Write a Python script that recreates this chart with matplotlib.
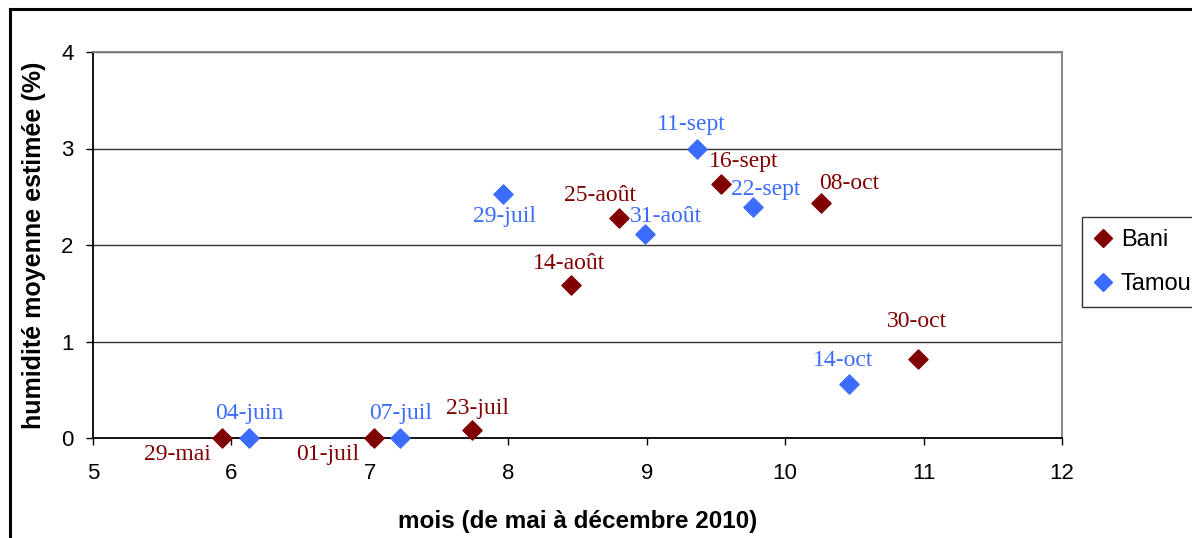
import matplotlib
matplotlib.use("Agg")
import matplotlib.pyplot as plt
from matplotlib.lines import Line2D

# Sampling dates (month + fraction of month) and estimated mean moisture (%)
bani_labels = ["29-mai", "01-juil", "23-juil", "14-août", "25-août", "16-sept", "08-oct", "30-oct"]
bani_x = [5.93, 7.03, 7.74, 8.45, 8.80, 9.54, 10.26, 10.96]
bani_y = [0.0, 0.0, 0.08, 1.59, 2.28, 2.63, 2.44, 0.82]

tamou_labels = ["04-juin", "07-juil", "29-juil", "31-août", "11-sept", "22-sept", "14-oct"]
tamou_x = [6.13, 7.22, 7.96, 8.99, 9.36, 9.77, 10.46]
tamou_y = [0.0, 0.0, 2.53, 2.11, 3.00, 2.39, 0.56]

x_ticks = [5, 6, 7, 8, 9, 10, 11, 12]
y_ticks = [0, 1, 2, 3, 4]

BANI = "#800000"
TAMOU = "#3a6cff"

# label offsets in points (dx, dy) relative to each marker
bani_off = [(-32, -12), (-33, -12), (4, 16), (-1, 15), (-14, 16), (16, 16), (20, 14), (-1, 27)]
tamou_off = [(0, 18), (0, 18), (1, -16), (15, 13), (-4, 17), (9, 13), (-4, 17)]

fig = plt.figure(figsize=(11.92, 5.38), dpi=100)
ax = fig.add_axes([93 / 1192, 1 - 438 / 538, (1062 - 93) / 1192, (438 - 52) / 538])

ax.set_xlim(5, 12)
ax.set_ylim(0, 4)
ax.set_xticks(x_ticks)
ax.set_yticks(y_ticks)

for y in y_ticks[1:]:
    ax.axhline(y, color="#333333", lw=1.0, zorder=1)

ax.scatter(bani_x, bani_y, marker="D", s=95, color=BANI, zorder=3, clip_on=False)
ax.scatter(tamou_x, tamou_y, marker="D", s=95, color=TAMOU, zorder=3, clip_on=False)

serif = ["Liberation Serif", "DejaVu Serif"]
for lab, x, y, (dx, dy) in zip(bani_labels, bani_x, bani_y, bani_off):
    ax.annotate(lab, (x, y), xytext=(dx, dy), textcoords="offset points",
                ha="center", va="center", color=BANI, fontsize=17, family=serif)
for lab, x, y, (dx, dy) in zip(tamou_labels, tamou_x, tamou_y, tamou_off):
    ax.annotate(lab, (x, y), xytext=(dx, dy), textcoords="offset points",
                ha="center", va="center", color=TAMOU, fontsize=17, family=serif)

sans = ["Liberation Sans", "DejaVu Sans"]
for side in ["left", "bottom"]:
    ax.spines[side].set_color("black")
    ax.spines[side].set_linewidth(1.3)
ax.spines["right"].set_color("#808080")
ax.spines["top"].set_color("#808080")
ax.spines["right"].set_linewidth(1.3)
ax.spines["top"].set_linewidth(1.3)

ax.tick_params(direction="out", length=5, width=1, labelsize=16, pad=13)
for t in ax.get_xticklabels() + ax.get_yticklabels():
    t.set_family(sans)
ax.tick_params(axis="y", pad=9)

ax.set_xlabel("mois (de mai à décembre 2010)", fontsize=17.5, fontweight="bold",
              family=sans, labelpad=19)
ax.set_ylabel("humidité moyenne estimée (%)", fontsize=18, fontweight="bold",
              family=sans, labelpad=11)

handles = [
    Line2D([], [], marker="D", ls="none", color=BANI, markersize=9, label="Bani"),
    Line2D([], [], marker="D", ls="none", color=TAMOU, markersize=9, label="Tamou"),
]
leg = fig.legend(handles=handles, loc="upper left", bbox_to_anchor=(1082 / 1192, 1 - 217 / 538),
                 frameon=True, fancybox=False, edgecolor="black",
                 prop={"family": sans, "size": 17}, handletextpad=0.35, handlelength=0.8,
                 borderpad=0.5, labelspacing=0.95, borderaxespad=0)
leg.get_frame().set_linewidth(1.0)

# outer chart frame (left and top edges visible)
fig.add_artist(Line2D([10 / 1192, 10 / 1192], [0, 1 - 9 / 538], transform=fig.transFigure,
                      color="black", lw=2.2))
fig.add_artist(Line2D([10 / 1192, 1], [1 - 9 / 538, 1 - 9 / 538], transform=fig.transFigure,
                      color="black", lw=2.2))

fig.savefig("out.png", dpi=100)
